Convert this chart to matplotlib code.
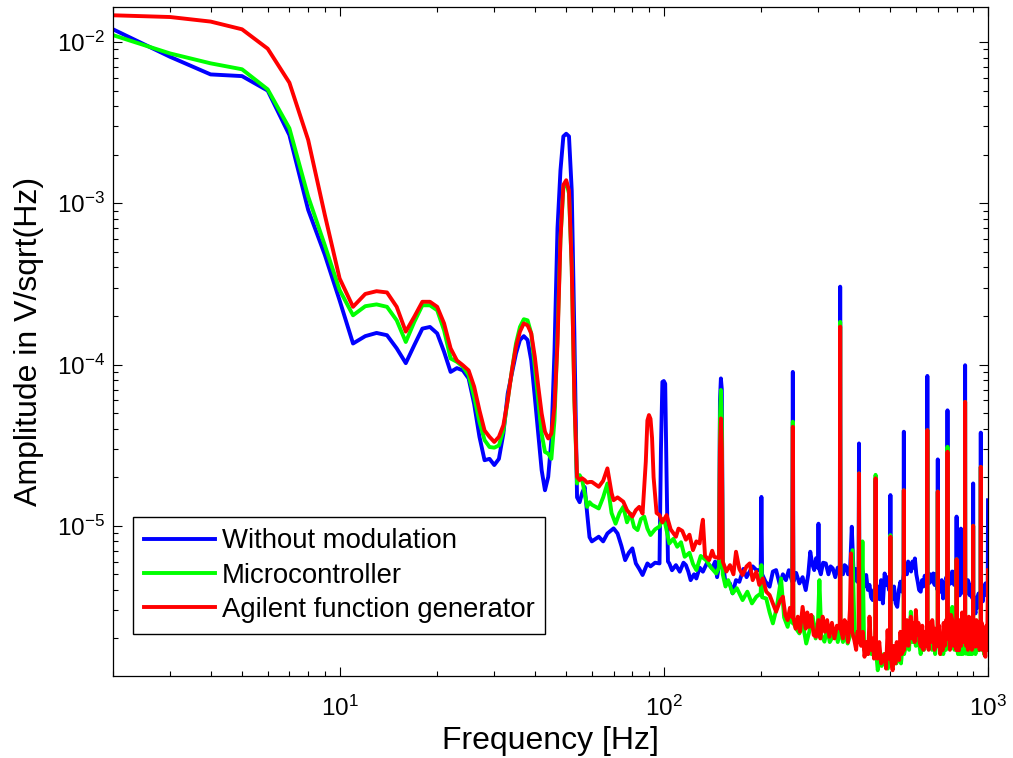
import numpy as np
import matplotlib
matplotlib.use("Agg")
import matplotlib.pyplot as plt

# ---- data (amplitude spectra, V/sqrt(Hz)) ----
# 1 Hz bins from 2 to 60 Hz
f_low = np.arange(2, 61)

blue_low = [1.20e-2, 8.1e-3, 6.3e-3, 6.15e-3, 5.0e-3, 2.65e-3, 9.1e-4, 4.8e-4, 2.5e-4, 1.35e-4,
            1.50e-4, 1.57e-4, 1.52e-4, 1.26e-4, 1.02e-4, 1.32e-4, 1.67e-4, 1.71e-4, 1.56e-4, 1.20e-4,
            9.0e-5, 9.5e-5, 9.2e-5, 8.2e-5, 5.7e-5, 3.56e-5, 2.55e-5, 2.6e-5, 2.38e-5, 2.6e-5,
            3.73e-5, 6.6e-5, 8.8e-5, 1.17e-4, 1.42e-4, 1.50e-4, 1.42e-4, 1.06e-4, 6.3e-5, 3.73e-5,
            2.21e-5, 1.66e-5, 2.01e-5, 3.4e-5, 1.2e-4, 7e-4, 1.6e-3, 2.6e-3, 2.7e-3, 2.6e-3,
            1.2e-3, 1.5e-4, 1.5e-5, 1.4e-5, 1.6e-5, 1.74e-5, 1.2e-5, 8.5e-6, 8.0e-6]
green_low = [1.104e-2, 8.5e-3, 7.38e-3, 6.78e-3, 5.09e-3, 2.92e-3, 1.1e-3, 5.5e-4, 2.9e-4, 2.02e-4,
             2.30e-4, 2.36e-4, 2.28e-4, 1.88e-4, 1.38e-4, 1.84e-4, 2.33e-4, 2.33e-4, 2.17e-4, 1.63e-4,
             1.09e-4, 1.04e-4, 9.7e-5, 8.6e-5, 6.3e-5, 4.42e-5, 3.40e-5, 3.08e-5, 3.05e-5, 3.15e-5,
             3.9e-5, 6.0e-5, 9.2e-5, 1.35e-4, 1.71e-4, 1.91e-4, 1.88e-4, 1.56e-4, 9.7e-5, 6.0e-5,
             3.73e-5, 2.87e-5, 2.8e-5, 2.6e-5, 4.5e-5, 1.5e-4, 6e-4, 1.25e-3, 1.35e-3, 1.15e-3,
             4e-4, 6e-5, 1.83e-5, 2.06e-5, 1.92e-5, 1.6e-5, 1.31e-5, 1.4e-5, 1.35e-5]
red_low = [1.466e-2, 1.43e-2, 1.34e-2, 1.20e-2, 9.1e-3, 5.6e-3, 2.47e-3, 8.5e-4, 3.42e-4, 2.28e-4,
           2.74e-4, 2.85e-4, 2.80e-4, 2.28e-4, 1.60e-4, 1.98e-4, 2.45e-4, 2.45e-4, 2.28e-4, 1.80e-4,
           1.26e-4, 1.06e-4, 9.9e-5, 9.2e-5, 7.3e-5, 5.2e-5, 3.9e-5, 3.56e-5, 3.31e-5, 3.56e-5,
           4.2e-5, 6.0e-5, 9.2e-5, 1.29e-4, 1.60e-4, 1.80e-4, 1.75e-4, 1.56e-4, 1.12e-4, 7.3e-5,
           4.97e-5, 3.83e-5, 3.48e-5, 3.73e-5, 5.47e-5, 1.35e-4, 6e-4, 1.3e-3, 1.39e-3, 1.2e-3,
           4e-4, 6e-5, 2.01e-5, 1.92e-5, 1.97e-5, 1.92e-5, 1.85e-5, 1.87e-5, 1.87e-5]

# readings above 60 Hz as (Hz, amplitude): mains harmonics + noise floor
blue_hi = [(63, 8.55e-6), (65, 8.0e-6), (67, 8.96e-6), (70, 9.63e-6), (72, 8.96e-6), (74, 7.5e-6),
           (76, 6.12e-6), (78, 6.8e-6), (80, 7.24e-6), (82, 5.84e-6), (84, 5.4e-6), (86, 4.95e-6),
           (89, 5.84e-6), (91, 5.6e-6), (94, 5.9e-6), (97, 5.84e-6), (98, 3e-5), (99, 7.8e-5),
           (100, 7.9e-5), (101, 7.6e-5), (102, 2e-5), (103, 6.0e-6), (104, 5.84e-6), (106, 5.3e-6),
           (109, 5.7e-6), (112, 5.19e-6), (115, 5.9e-6), (117, 5.7e-6), (119, 5.2e-6), (121, 4.6e-6),
           (124, 5.0e-6), (126, 4.71e-6), (129, 5.5e-6), (132, 5.19e-6), (136, 5.9e-6), (141, 5.44e-6),
           (144, 6.0e-6), (146, 4.8e-6), (148, 5.6e-6), (149, 6e-5), (150, 8.2e-5), (151, 7e-5),
           (152, 6e-6), (155, 4.4e-6), (160, 4.39e-6), (163, 3.81e-6), (167, 4.6e-6), (171, 4.49e-6),
           (176, 5.4e-6), (180, 4.8e-6), (184, 5.19e-6), (188, 5.6e-6), (193, 5.31e-6), (199, 5.3e-6),
           (200, 1.51e-5), (201, 5.0e-6), (206, 4.5e-6), (212, 4.19e-6), (217, 5.2e-6), (222, 5.31e-6),
           (228, 4.3e-6), (233, 5.0e-6), (238, 4.6e-6), (243, 5.3e-6), (249, 4.5e-6), (250, 9.0e-5),
           (251, 4.5e-6), (256, 5.1e-6), (262, 4.39e-6), (268, 4.8e-6), (274, 3.99e-6), (279, 5.0e-6),
           (283, 6.9e-6), (287, 5.8e-6), (291, 5.31e-6), (295, 6.3e-6), (299, 5.5e-6), (300, 1.03e-5),
           (301, 5.5e-6), (305, 5.0e-6), (310, 5.9e-6), (316, 5.84e-6), (322, 5.0e-6), (327, 5.6e-6),
           (332, 5.44e-6), (338, 4.8e-6), (344, 5.5e-6), (349, 5.5e-6), (350, 3.04e-4), (351, 5.5e-6),
           (357, 5.0e-6), (361, 5.7e-6), (365, 5.6e-6), (370, 5.0e-6), (375, 5.0e-6), (380, 9.86e-6),
           (385, 5.0e-6), (390, 5.4e-6), (395, 4.5e-6), (399, 5.0e-6), (400, 3.24e-5), (401, 5.0e-6),
           (406, 4.5e-6), (411, 5.2e-6), (416, 4.2e-6), (421, 4.95e-6), (426, 4.0e-6), (431, 4.3e-6),
           (436, 3.6e-6), (441, 3.46e-6), (445, 4.0e-6), (449, 3.5e-6), (450, 1.9e-5), (451, 3.5e-6),
           (457, 4.2e-6), (463, 3.5e-6), (468, 4.6e-6), (474, 3.3e-6), (480, 5.06e-6), (485, 4.3e-6),
           (490, 4.8e-6), (495, 4.0e-6), (499, 4.0e-6), (500, 1.55e-5), (501, 4.0e-6), (507, 3.5e-6),
           (513, 4.2e-6), (519, 3.3e-6), (525, 3.14e-6), (531, 4.0e-6), (537, 4.5e-6), (543, 3.9e-6),
           (549, 5.0e-6), (550, 3.83e-5), (551, 5.0e-6), (557, 5.8e-6), (562, 5.0e-6), (567, 6.0e-6),
           (573, 5.7e-6), (579, 5.2e-6), (585, 6.0e-6), (590, 5.5e-6), (595, 6.27e-6), (601, 5.0e-6),
           (607, 4.5e-6), (613, 4.0e-6), (620, 3.9e-6), (626, 4.6e-6), (632, 4.2e-6), (638, 4.9e-6),
           (643, 4.3e-6), (649, 5.0e-6), (650, 8.5e-5), (651, 5.0e-6), (658, 4.4e-6), (664, 5.0e-6),
           (671, 4.5e-6), (678, 5.06e-6), (684, 4.3e-6), (690, 5.0e-6), (695, 4.2e-6), (699, 4.0e-6),
           (700, 2.58e-5), (701, 4.0e-6), (707, 4.5e-6), (714, 3.9e-6), (720, 4.6e-6), (727, 3.54e-6),
           (733, 4.4e-6), (739, 4.0e-6), (744, 4.8e-6), (749, 4.5e-6), (750, 5.2e-5), (751, 4.5e-6),
           (757, 4.3e-6), (763, 5.0e-6), (769, 4.4e-6), (775, 5.2e-6), (780, 5.19e-6), (786, 4.3e-6),
           (793, 4.8e-6), (799, 4.5e-6), (800, 1.14e-5), (801, 4.5e-6), (807, 3.8e-6), (813, 4.4e-6),
           (818, 3.7e-6), (824, 4.5e-6), (825, 9.6e-6), (826, 4.5e-6), (832, 4.0e-6), (838, 4.6e-6),
           (843, 3.8e-6), (849, 4.0e-6), (850, 9.9e-5), (851, 4.0e-6), (857, 4.5e-6), (862, 3.8e-6),
           (867, 4.6e-6), (873, 4.39e-6), (879, 3.7e-6), (885, 4.3e-6), (892, 3.6e-6), (899, 3.5e-6),
           (900, 1.83e-5), (901, 3.5e-6), (907, 3.2e-6), (915, 2.86e-6), (921, 3.6e-6), (928, 3.1e-6),
           (935, 3.8e-6), (942, 3.3e-6), (949, 3.5e-6), (950, 3.78e-5), (951, 3.5e-6), (957, 4.0e-6),
           (964, 3.4e-6), (970, 4.2e-6), (976, 3.7e-6), (982, 4.39e-6), (988, 3.8e-6), (994, 4.1e-6),
           (998, 4.0e-6), (1000, 1.44e-5)]

green_hi = [(63, 1.28e-5), (65, 1.5e-5), (67, 1.83e-5), (69, 1.2e-5), (71, 1.03e-5), (73, 1.2e-5),
            (75, 1.31e-5), (77, 1.05e-5), (79, 1.19e-5), (81, 9.8e-6), (83, 9.4e-6), (85, 1.1e-5),
            (87, 1.14e-5), (89, 9.6e-6), (91, 8.76e-6), (94, 9.5e-6), (97, 9.9e-6), (99, 1.1e-5),
            (101, 1.03e-5), (104, 7.77e-6), (107, 8.3e-6), (110, 7.41e-6), (113, 7.9e-6), (116, 6.42e-6),
            (120, 6.8e-6), (123, 5.8e-6), (126, 5.31e-6), (130, 6.5e-6), (135, 6.12e-6), (140, 5.5e-6),
            (145, 5.06e-6), (148, 5.5e-6), (149, 4.5e-5), (150, 6.95e-5), (151, 4.5e-5), (152, 5.0e-6),
            (155, 4.2e-6), (158, 4.6e-6), (163, 3.81e-6), (168, 4.1e-6), (175, 3.46e-6), (181, 3.9e-6),
            (187, 3.3e-6), (193, 3.63e-6), (199, 3.8e-6), (200, 5.7e-6), (201, 3.6e-6), (207, 3.54e-6),
            (212, 2.9e-6), (217, 2.48e-6), (223, 3.1e-6), (230, 4.71e-6), (235, 2.7e-6), (241, 2.36e-6),
            (245, 2.8e-6), (249, 2.5e-6), (250, 4.42e-5), (251, 2.5e-6), (256, 2.3e-6), (262, 2.15e-6),
            (268, 2.5e-6), (275, 1.86e-6), (281, 2.2e-6), (288, 2.73e-6), (294, 2.0e-6), (299, 2.6e-6),
            (302, 4.6e-6), (306, 2.1e-6), (313, 1.91e-6), (319, 2.3e-6), (325, 1.9e-6), (332, 2.05e-6),
            (338, 2.3e-6), (344, 1.9e-6), (349, 2.2e-6), (350, 1.84e-4), (351, 2.2e-6), (357, 1.9e-6),
            (363, 2.2e-6), (369, 1.86e-6), (376, 2.1e-6), (382, 7.06e-6), (388, 2.0e-6), (395, 2.0e-6),
            (399, 2.2e-6), (400, 2.11e-5), (401, 2.2e-6), (405, 1.9e-6), (410, 8.0e-6), (415, 1.7e-6),
            (421, 1.9e-6), (426, 1.6e-6), (431, 1.78e-6), (437, 1.6e-6), (443, 1.8e-6), (449, 1.7e-6),
            (450, 2.07e-5), (451, 1.7e-6), (457, 1.27e-6), (463, 1.5e-6), (470, 1.35e-6), (477, 1.6e-6),
            (484, 1.47e-6), (491, 1.3e-6), (499, 1.5e-6), (500, 8.75e-6), (501, 1.5e-6), (508, 1.33e-6),
            (515, 1.6e-6), (522, 1.4e-6), (530, 1.7e-6), (539, 1.4e-6), (544, 1.7e-6), (549, 1.6e-6),
            (550, 1.66e-5), (551, 1.6e-6), (558, 1.8e-6), (565, 2.0e-6), (571, 1.7e-6), (578, 2.93e-6),
            (585, 1.9e-6), (592, 2.2e-6), (599, 1.8e-6), (606, 2.1e-6), (613, 1.86e-6), (620, 1.6e-6),
            (627, 2.0e-6), (635, 1.7e-6), (642, 1.9e-6), (649, 2.0e-6), (650, 3.92e-5), (651, 2.0e-6),
            (658, 1.78e-6), (665, 2.1e-6), (672, 1.7e-6), (680, 2.0e-6), (687, 1.6e-6), (693, 1.9e-6),
            (699, 1.9e-6), (700, 1.63e-5), (701, 1.9e-6), (707, 1.86e-6), (714, 1.6e-6), (721, 2.0e-6),
            (728, 1.6e-6), (735, 2.0e-6), (742, 1.7e-6), (749, 2.0e-6), (750, 3.09e-5), (751, 2.0e-6),
            (758, 1.8e-6), (765, 2.2e-6), (770, 2.6e-6), (776, 3.14e-6), (782, 2.0e-6), (788, 1.7e-6),
            (794, 2.1e-6), (799, 1.8e-6), (800, 6.2e-6), (801, 1.8e-6), (808, 1.6e-6), (815, 2.0e-6),
            (822, 1.6e-6), (829, 1.9e-6), (836, 1.6e-6), (843, 1.8e-6), (849, 1.7e-6), (850, 5.87e-5),
            (851, 1.7e-6), (853, 1.61e-6), (860, 1.9e-6), (867, 1.6e-6), (874, 2.0e-6), (881, 1.6e-6),
            (888, 1.9e-6), (894, 1.6e-6), (899, 1.7e-6), (900, 1.0e-5), (901, 1.7e-6), (908, 1.9e-6),
            (915, 1.6e-6), (922, 2.0e-6), (930, 1.7e-6), (937, 1.69e-6), (943, 2.0e-6), (949, 1.8e-6),
            (950, 2.32e-5), (951, 1.8e-6), (958, 1.7e-6), (965, 2.0e-6), (972, 1.6e-6), (982, 1.78e-6),
            (990, 2.1e-6), (1000, 2.0e-6)]

red_hi = [(63, 1.745e-5), (65, 1.9e-5), (67, 2.27e-5), (69, 1.6e-5), (70, 1.44e-5), (72, 1.5e-5),
          (75, 1.41e-5), (77, 1.25e-5), (80, 1.14e-5), (82, 1.25e-5), (84, 1.31e-5), (86, 1.19e-5),
          (88, 2.5e-5), (89, 4.5e-5), (90, 4.86e-5), (91, 4.6e-5), (92, 3.5e-5), (93, 2.0e-5),
          (95, 1.2e-5), (97, 1.165e-5), (99, 1.05e-5), (102, 1.165e-5), (105, 9.5e-6), (109, 8.55e-6),
          (111, 9.6e-6), (114, 9.3e-6), (117, 8.2e-6), (120, 8.8e-6), (123, 7.06e-6), (126, 8.0e-6),
          (129, 7.77e-6), (131, 1.0e-5), (132, 1.09e-5), (134, 6.5e-6), (138, 6.12e-6), (141, 7.0e-6),
          (143, 6.42e-6), (148, 6.3e-6), (149, 3.0e-5), (150, 4.63e-5), (151, 3.0e-5), (152, 6.0e-6),
          (156, 5.2e-6), (160, 5.7e-6), (164, 5.0e-6), (167, 6.9e-6), (171, 5.4e-6), (175, 4.95e-6),
          (180, 5.6e-6), (184, 5.84e-6), (188, 4.6e-6), (193, 5.19e-6), (197, 4.3e-6), (202, 4.71e-6),
          (207, 3.9e-6), (212, 3.72e-6), (217, 3.3e-6), (222, 2.93e-6), (228, 3.4e-6), (233, 3.63e-6),
          (237, 2.8e-6), (241, 2.6e-6), (245, 3.1e-6), (249, 2.7e-6), (250, 4.11e-5), (251, 2.7e-6),
          (255, 2.3e-6), (259, 2.73e-6), (263, 2.2e-6), (268, 3.14e-6), (274, 2.3e-6), (277, 2.9e-6),
          (281, 2.36e-6), (285, 2.8e-6), (290, 2.1e-6), (295, 2.05e-6), (300, 2.6e-6), (304, 2.0e-6),
          (309, 2.73e-6), (314, 2.2e-6), (319, 2.6e-6), (324, 2.05e-6), (330, 2.5e-6), (336, 2.0e-6),
          (342, 2.4e-6), (349, 2.3e-6), (350, 1.72e-4), (351, 2.3e-6), (357, 2.0e-6), (361, 2.6e-6),
          (365, 2.48e-6), (370, 1.9e-6), (375, 3.0e-6), (378, 6.74e-6), (381, 2.2e-6), (387, 1.95e-6),
          (392, 1.7e-6), (396, 2.2e-6), (399, 2.0e-6), (400, 2.11e-5), (401, 2.0e-6), (406, 1.8e-6),
          (411, 2.2e-6), (416, 1.54e-6), (422, 1.9e-6), (427, 1.6e-6), (431, 2.73e-6), (436, 1.7e-6),
          (441, 2.0e-6), (445, 1.5e-6), (449, 1.8e-6), (450, 1.97e-5), (451, 1.8e-6), (456, 1.5e-6),
          (462, 1.9e-6), (468, 1.4e-6), (473, 1.47e-6), (480, 1.6e-6), (485, 1.3e-6), (490, 2.25e-6),
          (495, 1.5e-6), (499, 1.6e-6), (500, 8.55e-6), (501, 1.6e-6), (504, 1.4e-6), (508, 1.27e-6),
          (513, 1.8e-6), (518, 1.4e-6), (523, 1.9e-6), (527, 1.5e-6), (532, 1.47e-6), (537, 2.2e-6),
          (542, 1.6e-6), (549, 1.7e-6), (550, 1.66e-5), (551, 1.7e-6), (557, 2.0e-6), (562, 2.6e-6),
          (568, 1.8e-6), (573, 2.3e-6), (578, 2.73e-6), (583, 2.0e-6), (588, 2.5e-6), (594, 1.9e-6),
          (599, 3.0e-6), (605, 2.1e-6), (610, 2.5e-6), (615, 1.9e-6), (621, 1.78e-6), (627, 2.4e-6),
          (632, 1.7e-6), (638, 2.2e-6), (643, 1.8e-6), (649, 2.0e-6), (650, 3.92e-5), (651, 2.0e-6),
          (656, 1.7e-6), (662, 2.5e-6), (668, 1.9e-6), (673, 2.6e-6), (678, 2.25e-6), (684, 1.7e-6),
          (689, 2.3e-6), (694, 1.8e-6), (699, 1.8e-6), (700, 1.63e-5), (701, 1.8e-6), (707, 2.4e-6),
          (712, 1.6e-6), (718, 2.1e-6), (724, 1.69e-6), (730, 2.5e-6), (736, 1.8e-6), (742, 2.6e-6),
          (749, 2.0e-6), (750, 2.88e-5), (751, 2.0e-6), (757, 2.3e-6), (763, 1.7e-6), (769, 2.8e-6),
          (776, 2.6e-6), (782, 1.8e-6), (788, 2.4e-6), (794, 1.9e-6), (799, 1.7e-6), (800, 6.2e-6),
          (801, 1.7e-6), (807, 2.5e-6), (814, 1.69e-6), (820, 2.6e-6), (826, 1.8e-6), (832, 2.9e-6),
          (838, 1.9e-6), (843, 2.6e-6), (849, 2.5e-6), (850, 5.87e-5), (851, 2.5e-6), (856, 1.8e-6),
          (862, 2.4e-6), (867, 1.7e-6), (873, 2.73e-6), (879, 1.9e-6), (885, 2.5e-6), (892, 1.7e-6),
          (899, 1.8e-6), (900, 1.0e-5), (901, 1.8e-6), (908, 2.3e-6), (915, 1.78e-6), (921, 2.6e-6),
          (928, 1.8e-6), (935, 2.4e-6), (942, 1.7e-6), (949, 2.0e-6), (950, 2.32e-5), (951, 2.0e-6),
          (957, 2.5e-6), (964, 1.7e-6), (970, 2.3e-6), (976, 1.6e-6), (982, 1.54e-6), (988, 2.4e-6),
          (994, 1.7e-6), (1000, 5.3e-6)]

labels = ["Without modulation", "Microcontroller", "Agilent function generator"]
colors = ["#0000ff", "#00ff00", "#ff0000"]

plt.rcParams["font.family"] = ["Liberation Sans", "DejaVu Sans"]
plt.rcParams["axes.unicode_minus"] = False

fig = plt.figure(figsize=(10.13, 7.58), dpi=100)
ax = fig.add_axes([113 / 1013, 82 / 758, 875 / 1013, 669 / 758])

series = [(blue_low, blue_hi), (green_low, green_hi), (red_low, red_hi)]
for (lo, hi), c, lab in zip(series, colors, labels):
    hf, ha = zip(*hi)
    f = np.concatenate([f_low, hf])
    a = np.concatenate([lo, ha])
    ax.loglog(f, a, color=c, lw=2.8, label=lab, solid_joinstyle="round")

ax.set_xlim(2, 1000)
ax.set_ylim(1.17e-6, 1.65e-2)
ax.tick_params(which="both", direction="in", top=True, right=True, width=0.8, labelsize=17.5)
ax.tick_params(which="major", length=6.5)
ax.tick_params(which="minor", length=3.6)
ax.tick_params(axis="x", pad=14)
ax.tick_params(axis="y", pad=6)
for sp in ax.spines.values():
    sp.set_linewidth(0.9)

ax.set_xlabel("Frequency [Hz]", fontsize=23, labelpad=4)
ax.set_ylabel("Amplitude in V/sqrt(Hz)", fontsize=23, labelpad=9)

leg = ax.legend(loc="lower left", bbox_to_anchor=(0.0229, 0.0628), borderaxespad=0,
                fontsize=19.8, fancybox=False, edgecolor="k", framealpha=1,
                handlelength=2.57, handletextpad=0.25, labelspacing=0.3, borderpad=0.4)
leg.get_frame().set_linewidth(1.0)

fig.savefig("out.png", dpi=100)
